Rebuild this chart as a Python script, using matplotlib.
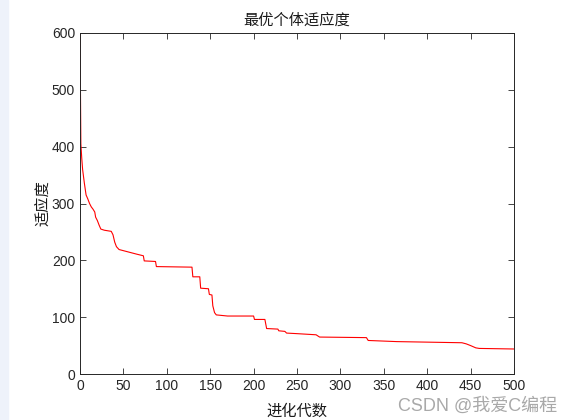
import matplotlib
matplotlib.use("Agg")
import matplotlib.pyplot as plt
from matplotlib.patches import Rectangle

# best fitness per generation
gens = [0, 1, 2, 3, 5, 7, 9, 11, 13, 15, 17, 18, 20, 22, 24, 28, 36, 38, 40, 42, 45,
        55, 65, 73, 74, 87, 88, 129, 130, 138, 139, 148, 149, 152, 153, 155, 157, 170,
        200, 201, 213, 215, 228, 229, 236, 238, 250, 272, 276, 330, 332, 365, 440,
        445, 450, 456, 460, 500]
fitness = [600, 405, 380, 360, 336, 315, 308, 300, 294, 290, 285, 276, 270, 262, 255,
           253, 251, 245, 232, 224, 219, 215, 211, 208, 199, 198, 189, 188, 171, 171,
           151, 150, 140, 139, 120, 108, 104, 102, 102, 96, 96, 80, 79, 76, 75, 72, 71,
           69, 65, 64, 59, 57, 55, 53, 50, 46, 45, 44]

xticks = list(range(0, 501, 50))
yticks = list(range(0, 601, 100))

plt.rcParams['font.family'] = ['Liberation Sans', 'Noto Sans CJK SC']
plt.rcParams['font.size'] = 10

fig = plt.figure(figsize=(5.71, 4.2), dpi=100)
fig.patches.append(Rectangle((0, 0), 8 / 571, 1, transform=fig.transFigure,
                             color='#eef2fa', zorder=0))
ax = fig.add_axes([80 / 571, 1 - 374 / 420, 434 / 571, 341 / 420])

ax.plot(gens, fitness, color='red', linewidth=0.8)
ax.set_xlim(0, 500)
ax.set_ylim(0, 600)
ax.set_xticks(xticks)
ax.set_yticks(yticks)
ax.tick_params(direction='in', top=True, right=True, length=4, width=0.6,
               colors='#262626', labelsize=10)
for s in ax.spines.values():
    s.set_linewidth(0.7)
    s.set_color('#262626')

ax.set_title('最优个体适应度', fontsize=11, color='#1a1a1a', pad=6)
ax.set_xlabel('进化代数', fontsize=11, color='#1a1a1a', labelpad=8)
ax.set_ylabel('适应度', fontsize=11, color='#1a1a1a', labelpad=1)

fig.text(0.697, 0.022, 'CSDN @我爱C编程', fontsize=13, color='#9a9a9a', alpha=0.85)

fig.savefig('out.png', dpi=100)
